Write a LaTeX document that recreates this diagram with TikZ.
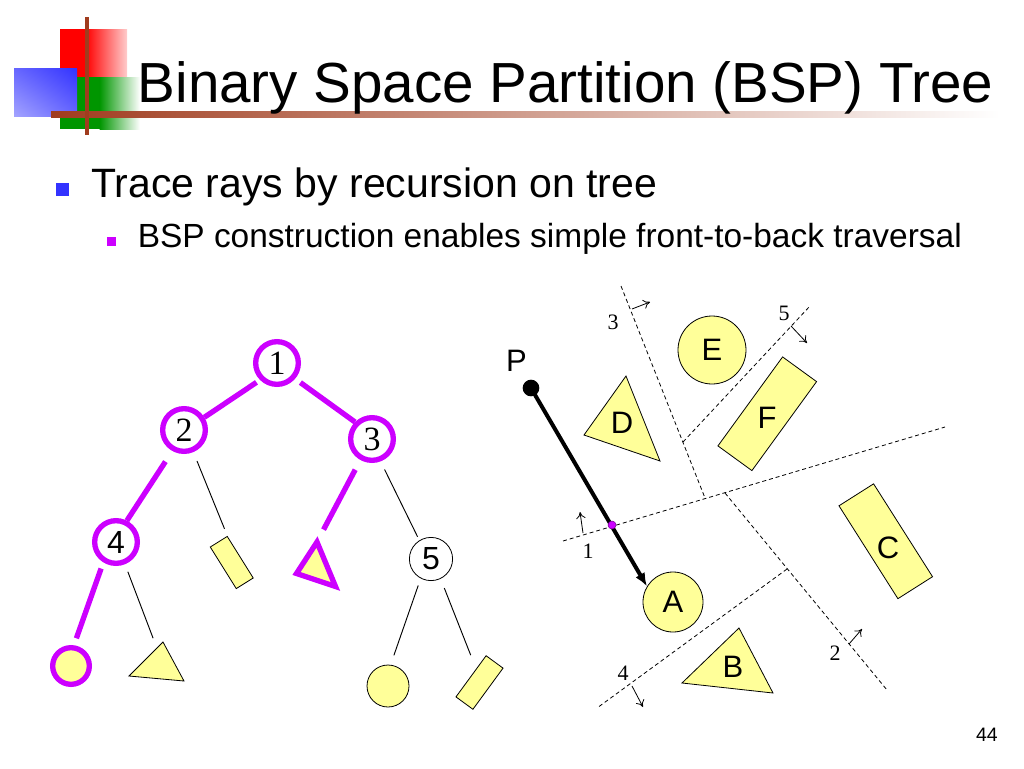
\documentclass[tikz,border=0pt]{standalone}
\usepackage{fontspec}
\setmainfont{Liberation Sans}
\newfontfamily\timesfont{Liberation Serif}
\usetikzlibrary{calc,arrows.meta,shadings}
\definecolor{bspmag}{RGB}{204,0,255}
\definecolor{bspyel}{RGB}{255,255,153}
\definecolor{bspblue}{RGB}{51,51,255}
\definecolor{bspbrown}{RGB}{160,60,30}
\definecolor{bspgreen}{RGB}{0,150,0}
\newcommand{\fsz}[1]{\fontsize{#1}{#1}\selectfont}

\begin{document}
\begin{tikzpicture}[x=0.75pt,y=-0.75pt,
	ring/.style={circle,draw=bspmag,line width=4pt,fill=white,minimum size=32pt,inner sep=0pt},
	leaf/.style={fill=bspyel,draw=black,line width=0.6pt,inner sep=0pt},
	hot/.style={draw=bspmag,line width=4pt},
	twig/.style={draw=black,line width=0.7pt},
	splitline/.style={draw=black,line width=0.6pt,dash pattern=on 3pt off 2.2pt},
	facing/.style={-{To[length=5pt,width=7pt]},line width=0.6pt},
	obj/.style={inner sep=0pt,font=\fsz{23.25}},
	num/.style={inner sep=0pt,font=\timesfont\fsz{16.5}}]
	\useasboundingbox (0,0) rectangle (1024,768);

	\fill[red] (60,29) rectangle (86,77);
	\shade[left color=red,right color=red!20] (85.5,29) rectangle (127,77);
	\fill[bspgreen] (60,77) rectangle (100,129);
	\shade[left color=bspgreen,right color=white] (99.5,77) rectangle (140,129);
	\shade[upper left=bspblue!75,upper right=bspblue,lower left=bspblue!45,lower right=bspblue!75] (14,68) rectangle (77,116);
	\shade[left color=bspbrown,middle color=bspbrown!45,right color=white] (51,111) rectangle (1000,117);
	\draw[bspbrown,line width=3pt] (87,17) -- (87,135);

	\node[anchor=base west,inner sep=0pt,font=\fsz{42.4}] (title) at (137.5,102) {Binary Space Partition (BSP) Tree};
	\fill[bspblue] (56,183) rectangle (69,196);
	\node[anchor=base west,inner sep=0pt,font=\fsz{30.75}] (pt1) at (91,197.5) {Trace rays by recursion on tree};
	\fill[bspmag] (107,237) rectangle (116,246);
	\node[anchor=base west,inner sep=0pt,font=\fsz{25.1}] (pt2) at (137.5,247) {BSP construction enables simple front-to-back traversal};
	\node[anchor=base east,inner sep=0pt,font=\fsz{14.6}] (page) at (998,741) {44};

	\node[ring,font=\timesfont\fsz{25.5}] (n1) at (277,363) {1};
	\node[ring,font=\timesfont\fsz{25.5}] (n2) at (184,430) {2};
	\node[ring,font=\timesfont\fsz{25.5}] (n3) at (372,439) {3};
	\node[ring,font=\fsz{24}] (n4) at (116,542) {4};
	\node[circle,draw=black,line width=0.6pt,minimum size=32.4pt,inner sep=0pt,font=\fsz{24}] (n5) at (431,559) {5};

	\node[leaf,circle,draw=bspmag,line width=4pt,minimum size=27.5pt] (c1) at (71,666) {};
	\node[leaf,circle,minimum size=31.5pt] (c2) at (388,686) {};
	\node[leaf,rotate=-58,minimum width=36.75pt,minimum height=15pt] (r1) at (231.75,562.5) {};
	\node[leaf,rotate=53.8,minimum width=38.25pt,minimum height=15.75pt] (r2) at (479.5,682.5) {};
	\coordinate (t1a) at (296.5,573.5);
	\coordinate (t1b) at (317,542);
	\coordinate (t1c) at (335.5,586.5);
	\filldraw[fill=bspyel,hot,line join=miter] (t1a) -- (t1b) -- (t1c) -- cycle;
	\coordinate (t2a) at (129,676);
	\coordinate (t2b) at (163,642);
	\coordinate (t2c) at (184,681);
	\filldraw[leaf] (t2a) -- (t2b) -- (t2c) -- cycle;

	\draw[hot,shorten <=3.2pt] (n1.225) -- (n2.32);
	\draw[hot,shorten <=4.9pt] (n1.319) -- (n3.135);
	\draw[hot,shorten <=9.5pt] (n2.241) -- (n4.63);
	\draw[twig,shorten <=7.2pt,shorten >=5.7pt] (n2.293) -- (r1.north west);
	\draw[hot,shorten <=8.25pt,shorten >=10.5pt] (n3.241) -- (t1b);
	\draw[twig,shorten <=6.75pt,shorten >=3pt] (n3.291) -- (n5.122);
	\draw[hot,shorten <=4.9pt,shorten >=5.5pt] (n4.238) -- (c1.82);
	\draw[twig,shorten <=6pt,shorten >=8pt] (n4.292) -- ($(t2a)!0.82!(t2b)$);
	\draw[twig,shorten <=5.6pt,shorten >=7.5pt] (n5.242) -- (c2.83);
	\draw[twig,shorten <=7.5pt,shorten >=11pt] (n5.296) -- ($(r2.north)!0.35!(r2.north east)$);

	\coordinate (l1a) at (563,541);
	\coordinate (l1b) at (945,427);
	\coordinate (l3a) at (621,286);
	\coordinate (l3b) at (705,498);
	\coordinate (l5a) at (683,442);
	\coordinate (l5b) at (810,306);
	\coordinate (l2a) at (725,493);
	\coordinate (l2b) at (887,690);
	\coordinate (l4a) at (787,569);
	\coordinate (l4b) at (597,708);
	\draw[splitline] (l1a) -- (l1b);
	\draw[splitline] (l3a) -- (l3b);
	\draw[splitline] (l5a) -- (l5b);
	\draw[splitline] (l2a) -- (l2b);
	\draw[splitline] (l4a) -- (l4b);

	\coordinate (f1a) at (583,533);
	\coordinate (f1b) at (580,512);
	\coordinate (f2a) at (849,644);
	\coordinate (f2b) at (862,629);
	\coordinate (f3a) at (632,309);
	\coordinate (f3b) at (650,302);
	\coordinate (f4a) at (632,686);
	\coordinate (f4b) at (643,707);
	\coordinate (f5a) at (791,326);
	\coordinate (f5b) at (807,343);
	\draw[facing] (f1a) -- (f1b);
	\draw[facing] (f2a) -- (f2b);
	\draw[facing] (f3a) -- (f3b);
	\draw[facing] (f4a) -- (f4b);
	\draw[facing] (f5a) -- (f5b);
	\node[num] (k1) at (588,551) {1};
	\node[num] (k2) at (835,653) {2};
	\node[num] (k3) at (613,322) {3};
	\node[num] (k4) at (623,673) {4};
	\node[num] (k5) at (784,313) {5};

	\node[leaf,circle,minimum size=51pt,obj] (E) at (712,350) {E};
	\node[leaf,circle,minimum size=45pt,obj] (A) at (673,602) {A};
	\filldraw[leaf] (626,376) -- (584,435) -- (660,461) -- cycle;
	\node[obj] (D) at (622,423) {D};
	\filldraw[leaf] (739,628) -- (682,683) -- (773,693) -- cycle;
	\node[obj] (B) at (733,667) {B};
	\node[leaf,rotate=54,minimum width=82.5pt,minimum height=31.5pt] (Fbox) at (767.25,413.75) {};
	\node[obj] (F) at (767,418) {F};
	\node[leaf,rotate=-57.6,minimum width=82.5pt,minimum height=30.75pt] (Cbox) at (885.75,541.25) {};
	\node[obj] (C) at (888,548) {C};

	\node[circle,fill=black,minimum size=12.5pt,inner sep=0pt] (Pdot) at (531,388) {};
	\node[obj] (P) at (516.5,360.5) {P};
	\draw[line width=3pt,-{Latex[length=10pt,width=8pt]}] (Pdot.center) -- (A.149);
	\node[circle,fill=bspmag,draw=bspmag!60!black,line width=0.4pt,minimum size=6pt,inner sep=0pt] (hit) at (612,525) {};
\end{tikzpicture}
\end{document}
